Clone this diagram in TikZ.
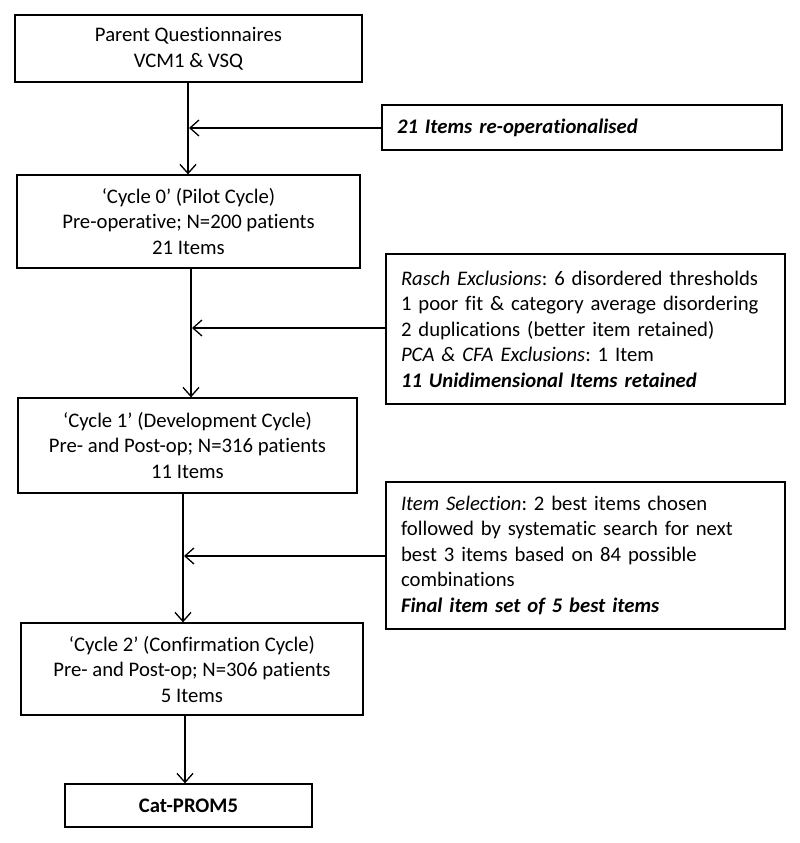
\documentclass[tikz,border=0pt]{standalone}
\usepackage{fontspec}
\setmainfont[Ligatures=NoCommon]{Carlito}
\usetikzlibrary{arrows.meta}
\frenchspacing
\begin{document}
\begin{tikzpicture}[x=1pt,y=-1pt,
  box/.style={draw, line width=1.3pt, rectangle, inner sep=0pt, align=center,
    font=\fontsize{20.7}{25.5}\selectfont},
  sidebox/.style={draw, line width=1.3pt, rectangle, inner ysep=0pt, inner xsep=15pt,
    align=left, font=\fontsize{20.7}{25.5}\selectfont},
  arr/.style={line width=1.3pt, -{Straight Barb[length=9pt,width=16pt,line width=1.3pt]}}]
\useasboundingbox (0,0) rectangle (800,843);
\node[box, minimum width=347pt, minimum height=67pt] (b1) at (188.5,48.5)
  {Parent Questionnaires\\VCM1 \& VSQ};
\node[sidebox, text width=370pt, minimum height=45pt] (r1) at (582,127.5)
  {\textbf{\textit{21 Items re-operationalised}}};
\node[box, minimum width=343pt, minimum height=93pt] (b2) at (188.5,221.5)
  {‘Cycle 0’ (Pilot Cycle)\\Pre-operative; N=200 patients\\21 Items};
\node[sidebox, text width=369pt, minimum height=150pt] (r2) at (585.5,329)
  {\textit{Rasch Exclusions}: 6 disordered thresholds\\
   1 poor fit \& category average disordering\\
   2 duplications (better item retained)\\
   \textit{PCA \& CFA Exclusions}: 1 Item\\
   \textbf{\textit{11 Unidimensional Items retained}}};
\node[box, minimum width=339pt, minimum height=95pt] (b3) at (187.5,445.5)
  {‘Cycle 1’ (Development Cycle)\\Pre- and Post-op; N=316 patients\\11 Items};
\node[sidebox, text width=369pt, minimum height=147pt] (r3) at (585.5,555.5)
  {\textit{Item Selection}: 2 best items chosen\\
   followed by systematic search for next\\
   best 3 items based on 84 possible\\
   combinations\\
   \textbf{\textit{Final item set of 5 best items}}};
\node[box, minimum width=342pt, minimum height=92pt] (b4) at (192,669)
  {‘Cycle 2’ (Confirmation Cycle)\\Pre- and Post-op; N=306 patients\\5 Items};
\node[box, minimum width=247pt, minimum height=43pt] (b5) at (188.5,805.5)
  {\textbf{Cat-PROM5}};
% vertical arrows
\draw[arr] (b1.south -| 188,0) -- (b2.north -| 188,0);
\draw[arr] (b2.south -| 191,0) -- (b3.north -| 191,0);
\draw[arr] (b3.south -| 183,0) -- (b4.north -| 183,0);
\draw[arr] (b4.south -| 185,0) -- (b5.north -| 185,0);
% horizontal arrows
\coordinate (h1) at (189,128);
\coordinate (h2) at (192,328);
\coordinate (h3) at (184,556);
\draw[arr] (r1.west |- h1) -- (h1);
\draw[arr] (r2.west |- h2) -- (h2);
\draw[arr] (r3.west |- h3) -- (h3);
\end{tikzpicture}
\end{document}
